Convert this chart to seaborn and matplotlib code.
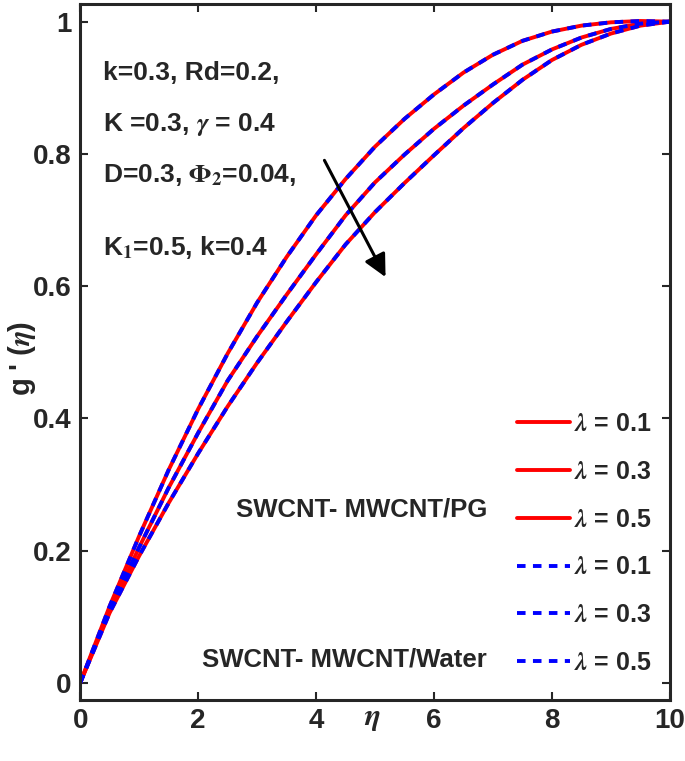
import pandas as pd
import seaborn as sns
import matplotlib.pyplot as plt

# curve data (eta step 0.5)
eta = [0, 0.5, 1.0, 1.5, 2.0, 2.5, 3.0, 3.5, 4.0, 4.5, 5.0,
       5.5, 6.0, 6.5, 7.0, 7.5, 8.0, 8.5, 9.0, 9.5, 10.0]
g_lam01 = [0, 0.116, 0.222, 0.322, 0.414, 0.498, 0.575, 0.644, 0.707, 0.762, 0.811,
           0.853, 0.890, 0.923, 0.950, 0.971, 0.985, 0.994, 0.999, 1.001, 1.0]
g_lam03 = [0, 0.110, 0.205, 0.295, 0.378, 0.457, 0.524, 0.587, 0.648, 0.707, 0.757,
           0.799, 0.838, 0.873, 0.905, 0.935, 0.958, 0.976, 0.989, 0.997, 1.0]
g_lam05 = [0, 0.106, 0.192, 0.272, 0.347, 0.418, 0.484, 0.546, 0.606, 0.663, 0.712,
           0.756, 0.798, 0.839, 0.877, 0.912, 0.942, 0.965, 0.982, 0.994, 1.0]
lambdas = ["0.1", "0.3", "0.5"]

x_ticks = [0, 2, 4, 6, 8, 10]
y_ticks = [0, 0.2, 0.4, 0.6, 0.8, 1]
y_tick_labels = ["0", "0.2", "0.4", "0.6", "0.8", "1"]

param_lines = ["k=0.3, Rd=0.2,",
               r"K =0.3, $\gamma$ = 0.4",
               r"D=0.3, $\Phi_2$=0.04,",
               r"K$_1$=0.5, k=0.4"]
fluid_labels = ["SWCNT- MWCNT/PG", "SWCNT- MWCNT/Water"]

sns.set_style("ticks")
plt.rcParams["font.family"] = ["Liberation Sans", "DejaVu Sans"]
plt.rcParams["font.weight"] = "bold"
plt.rcParams["mathtext.fontset"] = "stix"

df = pd.DataFrame({"eta": eta * 3,
                   "g": g_lam01 + g_lam03 + g_lam05,
                   "lam": sum([[l] * len(eta) for l in lambdas], [])})

fig = plt.figure(figsize=(6.85, 7.61), dpi=100)
ax = fig.add_axes([0.117, 0.080, 0.861, 0.915])

for lam in lambdas:
    d = df[df["lam"] == lam]
    sns.lineplot(data=d, x="eta", y="g", ax=ax, color="#ff0000", lw=2.8,
                 label=r"$\lambda$ = " + lam)
for lam in lambdas:
    d = df[df["lam"] == lam]
    sns.lineplot(data=d, x="eta", y="g", ax=ax, color="#0000ff", lw=2.8,
                 linestyle=(0, (2.2, 1.9)), label=r"$\lambda$ = " + lam)

ax.set_xlim(0, 10)
ax.set_ylim(-0.026, 1.027)
ax.set_xticks(x_ticks)
ax.set_xticklabels([str(t) for t in x_ticks])
ax.set_yticks(y_ticks)
ax.set_yticklabels(y_tick_labels)
ax.tick_params(direction="in", length=6, width=1.5, top=True, right=True,
               labelsize=20, pad=6, color="#262626")
for s in ax.spines.values():
    s.set_linewidth(2.2)
    s.set_color("#262626")

ax.set_xlabel(r"$\eta$", fontsize=22)
ax.xaxis.set_label_coords(0.495, -0.025)
ax.xaxis.label.set_verticalalignment("center")
ax.set_ylabel(r"g ' ($\eta$)", fontsize=21, fontweight="bold")
ax.yaxis.set_label_coords(-0.072, 0.49)

leg = ax.legend(loc="center right", bbox_to_anchor=(0.968, 0.225), frameon=False,
                fontsize=18, handlelength=2.1, handletextpad=0.15,
                labelspacing=0.95, borderpad=0, borderaxespad=0)

ys = [0.895, 0.828, 0.761, 0.665]
for txt, y in zip(param_lines, ys):
    fig.text(0.150, y, txt, fontsize=19, fontweight="bold", va="baseline")

fig.text(0.711, 0.321, fluid_labels[0], fontsize=18.5, fontweight="bold",
         ha="right", va="baseline")
fig.text(0.711, 0.124, fluid_labels[1], fontsize=18.5, fontweight="bold",
         ha="right", va="baseline")

ax.annotate("", xy=(5.2, 0.61), xytext=(4.12, 0.794),
            arrowprops=dict(arrowstyle="-|>", color="black", lw=2.2,
                            mutation_scale=34))

plt.savefig("out.png", dpi=100)
